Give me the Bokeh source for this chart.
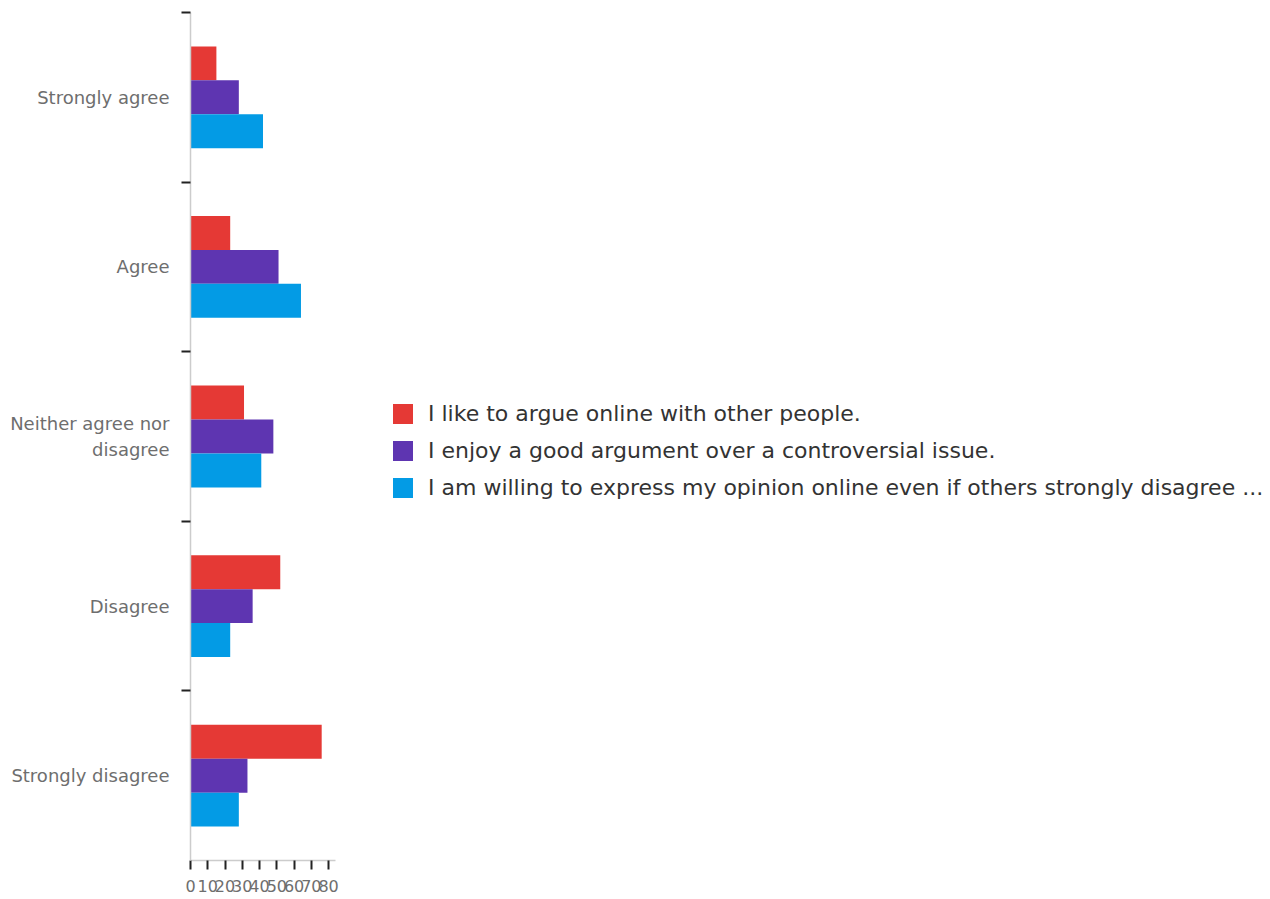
from bokeh.plotting import figure
from bokeh.models import Range1d, FixedTicker, ColumnDataSource, Legend, LegendItem
from bokeh.embed import file_html
from bokeh.resources import INLINE

categories = ["Strongly agree", "Agree", "Neither agree nor disagree", "Disagree", "Strongly disagree"]
category_labels = ["Strongly agree", "Agree", "Neither agree nor\ndisagree", "Disagree", "Strongly disagree"]
series_names = [
    "I like to argue online with other people.",
    "I enjoy a good argument over a controversial issue.",
    "I am willing to express my opinion online even if others strongly disagree ...",
]
argue_online = [15, 23, 31, 52, 76]
good_argument = [28, 51, 48, 36, 33]
express_opinion = [42, 64, 41, 23, 28]
x_ticks = [0, 10, 20, 30, 40, 50, 60, 70, 80]
colors = ["#E53935", "#5E35B1", "#039BE5"]
offsets = [-0.2, 0.0, 0.2]

idx = list(range(len(categories)))

p = figure(
    frame_width=145, frame_height=848,
    x_range=Range1d(0, 84), y_range=Range1d(len(categories) - 0.5, -0.5),
    output_backend="svg", toolbar_location=None,
    min_border_left=190, min_border_top=12, min_border_bottom=37, min_border_right=925,
)
p.outline_line_color = None
p.xgrid.grid_line_color = None
p.ygrid.grid_line_color = None
p.background_fill_color = "white"

items = []
for name, vals, col, off in zip(series_names, [argue_online, good_argument, express_opinion], colors, offsets):
    src = ColumnDataSource(dict(y=[i + off for i in idx], v=vals, cat=categories))
    r = p.hbar(y="y", right="v", left=0, height=0.2, source=src, fill_color=col, line_color=None)
    items.append(LegendItem(label=name, renderers=[r]))

# y axis
p.yaxis.ticker = FixedTicker(ticks=idx, minor_ticks=[i - 0.5 for i in idx])
p.yaxis.major_label_overrides = {i: lab for i, lab in zip(idx, category_labels)}
p.yaxis.major_tick_out = 0
p.yaxis.major_tick_in = 0
p.yaxis.minor_tick_out = 9
p.yaxis.minor_tick_in = 0
p.yaxis.minor_tick_line_color = "#222222"
p.yaxis.minor_tick_line_width = 2
p.yaxis.axis_line_color = "#cccccc"
p.yaxis.axis_line_width = 1.5
p.yaxis.major_label_standoff = 12
p.yaxis.major_label_text_font = "DejaVu Sans"
p.yaxis.major_label_text_font_size = "18px"
p.yaxis.major_label_text_color = "#6e6e6e"

# x axis
p.xaxis.ticker = FixedTicker(ticks=x_ticks, minor_ticks=[])
p.xaxis.major_tick_out = 9
p.xaxis.major_tick_in = 0
p.xaxis.major_tick_line_color = "#222222"
p.xaxis.major_tick_line_width = 2
p.xaxis.axis_line_color = "#cccccc"
p.xaxis.axis_line_width = 1.5
p.xaxis.major_label_standoff = 10
p.xaxis.major_label_text_font = "DejaVu Sans"
p.xaxis.major_label_text_font_size = "16px"
p.xaxis.major_label_text_color = "#6e6e6e"

legend = Legend(items=items, location=(55, 360))
legend.margin = 0
legend.padding = 0
legend.border_line_color = None
legend.background_fill_alpha = 0
legend.glyph_width = 25
legend.glyph_height = 25
legend.label_text_font = "DejaVu Sans"
legend.label_text_font_size = "22px"
legend.label_text_color = "#333333"
legend.spacing = 12
legend.label_standoff = 13
p.add_layout(legend, "right")

open("out.html", "w").write(file_html(p, INLINE))
